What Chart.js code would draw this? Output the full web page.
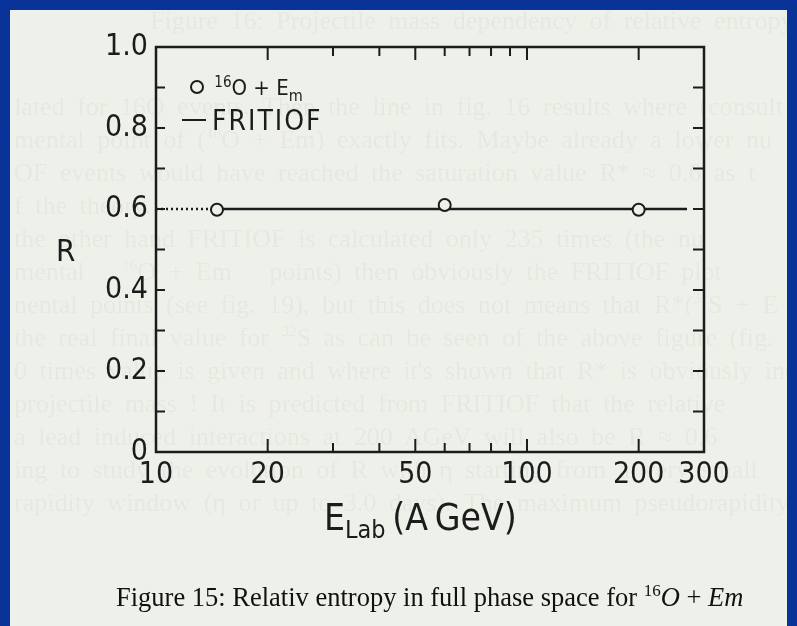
<!DOCTYPE html>
<html>
<head>
<meta charset="utf-8">
<script src="https://cdn.jsdelivr.net/npm/chart.js@4.4.1/dist/chart.umd.min.js"></script>
<style>
  body { margin:0; width:797px; height:626px; overflow:hidden; background:#0a3399; position:relative; }
  #panel { position:absolute; left:10px; top:10px; width:777px; height:616px; background:#eef0ea; overflow:hidden; }
  .bgline { position:absolute; left:4px; white-space:nowrap; font:26px 'Liberation Serif', serif; line-height:30px; color:rgba(0,0,0,0.05); word-spacing:6px; }
  .bgline sup { font-size:15px; line-height:0; }
  #c { position:absolute; left:0; top:0; }
  .nar { font-family:'Liberation Sans Narrow','DejaVu Sans Condensed',sans-serif; color:#1c1c1c; position:absolute; white-space:nowrap; }
  #caption { position:absolute; left:116px; top:581px; font:26.5px 'Liberation Serif', serif; color:#111; white-space:nowrap; }
</style>
</head>
<body>
<div id="panel">
  <div class="bgline" style="top:-4px;left:140px">Figure 16: Projectile mass dependency of relative entropy</div>
  <div class="bgline" style="top:82px">lated for 16O events. Then the line in fig. 16 results where (consult</div>
  <div class="bgline" style="top:115px">mental point of (<sup>16</sup>O + Em) exactly fits. Maybe already a lower nu</div>
  <div class="bgline" style="top:148px">OF events would have reached the saturation value R* ≈ 0.6 as t</div>
  <div class="bgline" style="top:181px">f the theory.</div>
  <div class="bgline" style="top:214px">the other hand FRITIOF is calculated only 235 times (the nu</div>
  <div class="bgline" style="top:247px">mental &nbsp; <sup>16</sup>O + Em &nbsp; points) then obviously the FRITIOF plot</div>
  <div class="bgline" style="top:280px">nental points (see fig. 19), but this does not means that R*(<sup>32</sup>S + E</div>
  <div class="bgline" style="top:313px">the real final value for <sup>32</sup>S as can be seen of the above figure (fig. 16</div>
  <div class="bgline" style="top:346px">0 times value is given and where it's shown that R* is obviously inde</div>
  <div class="bgline" style="top:379px">projectile mass ! It is predicted from FRITIOF that the relative</div>
  <div class="bgline" style="top:412px">a lead induced interactions at 200 AGeV will also be R ≈ 0.6</div>
  <div class="bgline" style="top:445px">ing to study the evolution of R with η starting from a very small</div>
  <div class="bgline" style="top:478px">rapidity window (η or up to 3.0 days). The maximum pseudorapidity</div>
</div>
<canvas id="c" width="797" height="626"></canvas>

<div class="nar" style="left:56px;top:232px;font-size:31px">R</div>
<div class="nar" style="left:190px;top:73px;font-size:22px">
  <span style="display:inline-block;width:10px;height:10px;border:2px solid #1c1c1c;border-radius:50%;vertical-align:1px"></span>
  <sup style="font-size:15px;margin-left:4px">16</sup>O + E<sub style="font-size:16px">m</sub>
</div>
<div class="nar" style="left:182px;top:104px;font-size:28px;letter-spacing:2px">
  <span style="display:inline-block;width:24px;height:2px;background:#1c1c1c;vertical-align:9px;margin-right:6px"></span>FRITIOF
</div>
<div class="nar" style="left:324px;top:496px;font-size:37px">E<sub style="font-size:25px">Lab</sub>&thinsp;(A&thinsp;GeV)</div>
<div id="caption">Figure 15: Relativ entropy in full phase space for <sup style="font-size:17px">16</sup><i>O</i> + <i>Em</i></div>

<script>
'use strict'
// measured 16O + Em points
const energies = [14.6, 60, 200];
const rMeasured = [0.598, 0.61, 0.598];
// FRITIOF prediction
const fritiofE = [14.6, 270];
const fritiofR = [0.6, 0.6];
// dotted extension to the left
const extrapE = [10, 14.6];
const extrapR = [0.6, 0.6];

const xTickValues = [10, 20, 30, 40, 50, 60, 70, 80, 90, 100, 200, 300];
const xTickLabels = [10, 20, 50, 100, 200, 300];
const yTickLabels = ['0', '0.2', '0.4', '0.6', '0.8', '1.0'];

const ink = '#1c1c1c';
const paper = '#eef0ea';
const narrow = "'Liberation Sans Narrow','DejaVu Sans Condensed',sans-serif";

function pts(xs, ys) {
  return xs.map((x, i) => ({x: x, y: ys[i]}));
}

// box + inward ticks, drawn from the scales
const frame = {
  id: 'frame',
  afterDatasetsDraw(chart) {
    const ctx = chart.ctx;
    const a = chart.chartArea;
    const xs = chart.scales.x, ys = chart.scales.y;
    ctx.save();
    ctx.strokeStyle = ink;
    ctx.lineWidth = 2.5;
    ctx.strokeRect(a.left, a.top, a.right - a.left, a.bottom - a.top);
    ctx.lineWidth = 2;
    ctx.beginPath();
    xs.ticks.forEach(t => {
      if (t.value <= 10 || t.value >= 300) return;
      const px = xs.getPixelForValue(t.value);
      const len = xTickLabels.includes(t.value) ? 13 : 9;
      ctx.moveTo(px, a.bottom); ctx.lineTo(px, a.bottom - len);
      ctx.moveTo(px, a.top); ctx.lineTo(px, a.top + len);
    });
    ys.ticks.forEach((t, i) => {
      if (i === 0 || i === ys.ticks.length - 1) return;
      const py = ys.getPixelForValue(t.value);
      ctx.moveTo(a.left, py); ctx.lineTo(a.left + 9, py);
      ctx.moveTo(a.right, py); ctx.lineTo(a.right - 11, py);
    });
    ctx.stroke();
    ctx.restore();
  }
};

new Chart(document.getElementById('c'), {
  type: 'scatter',
  data: {
    datasets: [
      {
        label: '16O+Em',
        data: pts(energies, rMeasured),
        pointRadius: 6,
        pointBorderWidth: 2,
        pointBackgroundColor: paper,
        pointBorderColor: ink,
        showLine: false
      },
      {
        label: 'FRITIOF',
        data: pts(fritiofE, fritiofR),
        showLine: true,
        borderColor: ink,
        borderWidth: 2.5,
        pointRadius: 0
      },
      {
        label: 'extrapolation',
        data: pts(extrapE, extrapR),
        showLine: true,
        borderColor: ink,
        borderWidth: 2.5,
        borderDash: [2, 3],
        pointRadius: 0
      }
    ]
  },
  options: {
    responsive: false,
    animation: false,
    devicePixelRatio: 1,
    layout: { padding: { left: 0, right: 93, top: 47, bottom: 124 } },
    plugins: { legend: { display: false }, tooltip: { enabled: false } },
    scales: {
      x: {
        type: 'logarithmic',
        min: 10, max: 300,
        afterBuildTicks: s => { s.ticks = xTickValues.map(v => ({value: v})); },
        afterFit: s => { s.height = 50; },
        grid: { display: false, drawTicks: false },
        border: { display: false },
        ticks: {
          autoSkip: false, maxRotation: 0, padding: 5,
          color: ink,
          font: { family: narrow, size: 30 },
          callback: v => xTickLabels.includes(v) ? String(v) : ''
        }
      },
      y: {
        min: 0, max: 1,
        afterFit: s => { s.width = 156; },
        grid: { display: false, drawTicks: false },
        border: { display: false },
        ticks: {
          stepSize: 0.1, padding: 8,
          color: ink,
          font: { family: narrow, size: 30 },
          callback: (v, i) => i % 2 === 0 ? yTickLabels[i / 2] : ''
        }
      }
    }
  },
  plugins: [frame]
});
</script>
</body>
</html>
